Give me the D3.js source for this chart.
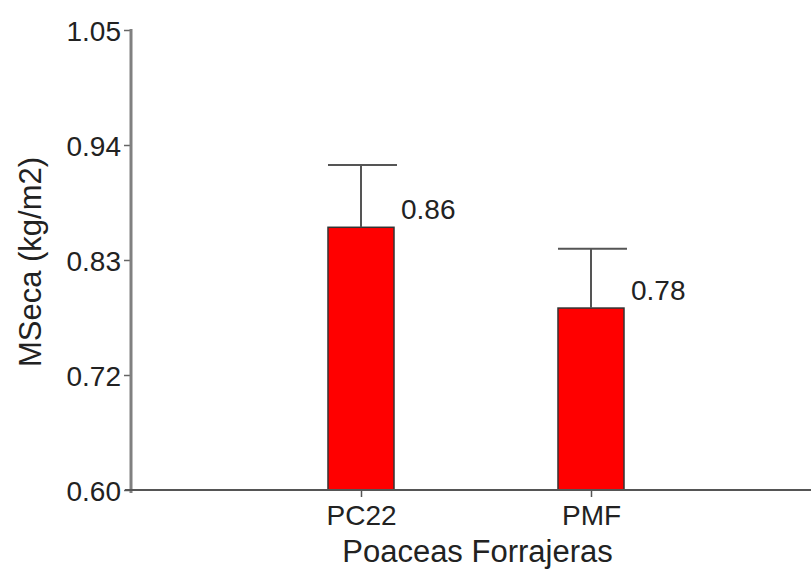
<!DOCTYPE html>
<html>
<head>
<meta charset="utf-8">
<script src="https://cdn.jsdelivr.net/npm/d3@7"></script>
<style>
  html, body { margin: 0; padding: 0; background: #fff; }
  svg { display: block; }
  text { font-family: "Liberation Sans", Arial, sans-serif; fill: #222; }
</style>
</head>
<body>
<svg id="chart" width="811" height="576"></svg>
<script>
// Data
const categories = ["PC22", "PMF"];
const means = [0.857, 0.778];
const errorTops = [0.918, 0.836];
const valueLabels = ["0.86", "0.78"];
const yTickValues = [0.60, 0.7125, 0.825, 0.9375, 1.05];
const yTickLabels = ["0.60", "0.72", "0.83", "0.94", "1.05"];
const xTitle = "Poaceas Forrajeras";
const yTitle = "MSeca (kg/m2)";

(function () {
const svg = d3.select("#chart");
const W = 811, H = 576;
const mLeft = 131, mTop = 30, mBottom = 490;

const y = d3.scaleLinear().domain([0.60, 1.05]).range([mBottom, mTop]);
const x = d3.scalePoint().domain(categories).range([mLeft, mLeft + 690]).padding(1);
const barW = x.step() * 0.287;
const capW = x.step() * 0.30;

// Bars
const g = svg.append("g");
g.selectAll("rect.bar").data(categories).join("rect")
  .attr("class", "bar")
  .attr("x", d => x(d) - barW / 2)
  .attr("y", (d, i) => y(means[i]))
  .attr("width", barW)
  .attr("height", (d, i) => y(0.60) - y(means[i]))
  .attr("fill", "#ff0000")
  .attr("stroke", "#333")
  .attr("stroke-width", 1.5);

// Error bars
g.selectAll("line.err").data(categories).join("line")
  .attr("class", "err")
  .attr("x1", d => x(d)).attr("x2", d => x(d))
  .attr("y1", (d, i) => y(means[i])).attr("y2", (d, i) => y(errorTops[i]))
  .attr("stroke", "#555").attr("stroke-width", 2);
g.selectAll("line.cap").data(categories).join("line")
  .attr("class", "cap")
  .attr("x1", d => x(d) - barW / 2).attr("x2", d => x(d) - barW / 2 + capW)
  .attr("y1", (d, i) => y(errorTops[i])).attr("y2", (d, i) => y(errorTops[i]))
  .attr("stroke", "#555").attr("stroke-width", 2);

// Value labels
g.selectAll("text.val").data(categories).join("text")
  .attr("class", "val")
  .attr("x", d => x(d) + barW / 2 + 7)
  .attr("y", (d, i) => y(means[i]) - 8)
  .attr("font-size", 28)
  .text((d, i) => valueLabels[i]);

// Y axis
const yAxis = d3.axisLeft(y).tickValues(yTickValues)
  .tickFormat((d, i) => yTickLabels[i]).tickSize(7).tickPadding(3);
const ya = svg.append("g").attr("transform", `translate(${mLeft},0)`).call(yAxis);
ya.select(".domain").remove();
ya.selectAll(".tick line").attr("stroke", "#666").attr("stroke-width", 1.5);
ya.selectAll(".tick text").attr("font-size", 28).attr("fill", "#222")
  .attr("font-family", "Liberation Sans, Arial, sans-serif").attr("dy", "0.36em");
svg.append("line").attr("x1", mLeft).attr("x2", mLeft)
  .attr("y1", mTop - 1).attr("y2", mBottom + 3)
  .attr("stroke", "#808080").attr("stroke-width", 3);

// X axis
const xAxis = d3.axisBottom(x).tickSize(7).tickPadding(8);
const xa = svg.append("g").attr("transform", `translate(0,${mBottom})`).call(xAxis);
xa.select(".domain").remove();
xa.selectAll(".tick line").attr("stroke", "#555").attr("stroke-width", 1.5);
xa.selectAll(".tick text").attr("font-size", 28).attr("fill", "#222")
  .attr("font-family", "Liberation Sans, Arial, sans-serif");
svg.append("line").attr("x1", mLeft - 6).attr("x2", W)
  .attr("y1", mBottom).attr("y2", mBottom)
  .attr("stroke", "#555").attr("stroke-width", 2);

// Titles
svg.append("text").attr("x", (340 + 615) / 2).attr("y", 562)
  .attr("text-anchor", "middle").attr("font-size", 31).text(xTitle);
svg.append("text").attr("transform", `translate(41,262) rotate(-90)`)
  .attr("text-anchor", "middle").attr("font-size", 31).text(yTitle);
})();
</script>
</body>
</html>
